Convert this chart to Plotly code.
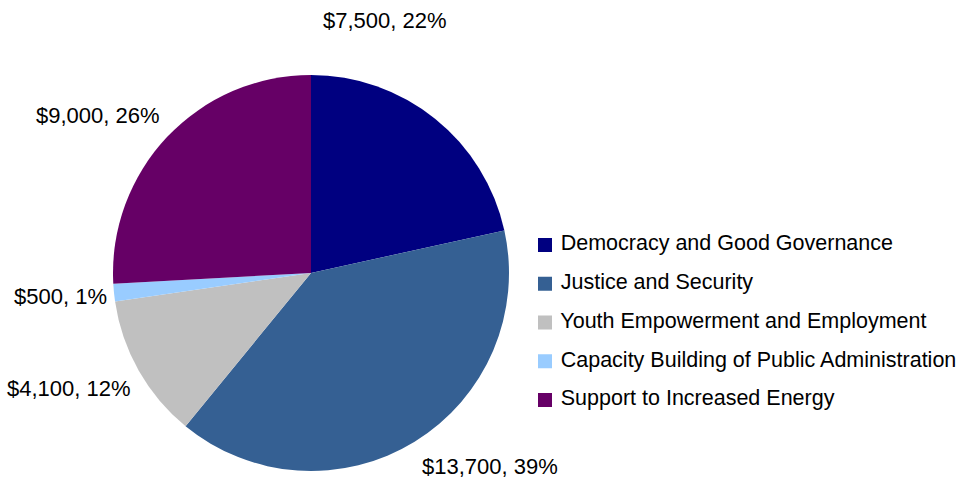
import plotly.graph_objects as go

# Programme areas and funding amounts
categories = [
    "Democracy and Good Governance",
    "Justice and Security",
    "Youth Empowerment and Employment",
    "Capacity Building of Public Administration",
    "Support to Increased Energy",
]
amounts = [7500, 13700, 4100, 500, 9000]
colors = ["#000080", "#356093", "#C0C0C0", "#99CCFF", "#660066"]

W, H = 961, 478
total = sum(amounts)
label_texts = [f"${v:,}, {round(100 * v / total)}%" for v in amounts]

# Where each slice's data label sits (pixel centres in the figure)
label_pos_px = [(385, 21), (490, 466), (69, 388), (60, 296), (98, 116)]

# Pie geometry in pixels
cx, cy, r = 311, 273, 198

fig = go.Figure()
fig.add_trace(go.Pie(
    labels=categories,
    values=amounts,
    sort=False,
    direction="clockwise",
    rotation=0,
    marker=dict(colors=colors, line=dict(width=0)),
    textinfo="none",
    hoverinfo="label+value+percent",
    showlegend=False,
    domain=dict(x=[(cx - r) / W, (cx + r) / W],
                y=[(H - cy - r) / H, (H - cy + r) / H]),
))

# Legend drawn as a key column on its own hidden axes
key_rows = list(range(len(categories)))
fig.add_trace(go.Scatter(
    x=[0] * len(categories),
    y=key_rows,
    mode="markers+text",
    marker=dict(symbol="square", size=14, color=colors, line=dict(width=0)),
    text=[" " + c for c in categories],
    textposition="middle right",
    textfont=dict(family="Liberation Sans, Arial, sans-serif", size=21.5, color="#000000"),
    hoverinfo="skip",
    showlegend=False,
    xaxis="x2", yaxis="y2",
))

row_h = 38.75
first_row_y = 245
top = first_row_y - row_h / 2
bottom = top + row_h * len(categories)

annotations = []
for txt, (px, py) in zip(label_texts, label_pos_px):
    annotations.append(dict(
        x=px / W, y=1 - py / H, xref="paper", yref="paper",
        text=txt, showarrow=False, xanchor="center", yanchor="middle",
        font=dict(family="Liberation Sans, Arial, sans-serif", size=22, color="#000000"),
    ))

fig.update_layout(
    width=W, height=H,
    margin=dict(l=0, r=0, t=0, b=0),
    paper_bgcolor="#FFFFFF",
    plot_bgcolor="rgba(0,0,0,0)",
    annotations=annotations,
    xaxis2=dict(domain=[538 / W, 1], range=[-7, 423 - 7], visible=False,
                fixedrange=True),
    yaxis2=dict(domain=[1 - bottom / H, 1 - top / H],
                range=[len(categories) - 0.5, -0.5], visible=False,
                fixedrange=True, anchor="x2"),
    xaxis=dict(visible=False),
    yaxis=dict(visible=False),
)

fig.write_html("out.html")
